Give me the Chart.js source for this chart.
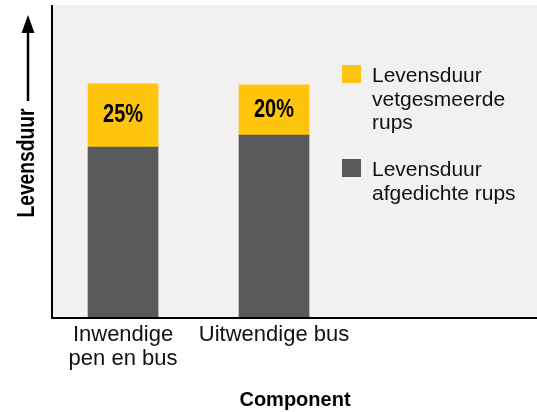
<!DOCTYPE html>
<html lang="nl">
<head>
<meta charset="UTF-8">
<title>Levensduur per component</title>
<script src="https://cdn.jsdelivr.net/npm/chart.js"></script>
<style>
    html, body { margin: 0; padding: 0; background: #ffffff; }
    .wrap { position: relative; width: 537px; height: 412px; }
</style>
</head>
<body>
<div class="wrap"><canvas id="lifeChart"></canvas></div>
<script>
// data (y in % of plot height)
const categories = [['Inwendige', 'pen en bus'], 'Uitwendige bus'];
const sealedLife = [54.5, 58.3];     // Levensduur afgedichte rups
const greasedExtra = [20.2, 16.1];   // extra levensduur vetgesmeerde rups
const pctLabels = ['25%', '20%'];
const legendLabels = [
    ['Levensduur', 'vetgesmeerde', 'rups'],
    ['Levensduur', 'afgedichte rups']
];

const YELLOW = '#ffc40c';
const GREY = '#58595b';
const BG = '#f2f1ef';
const FONT = "'Liberation Sans', Arial, sans-serif";

// condensed bold text: Liberation Sans squeezed horizontally
function narrowText(ctx, text, x, y, size, squeeze) {
    ctx.save();
    ctx.font = 'bold ' + size + 'px ' + FONT;
    ctx.translate(x, y);
    ctx.scale(squeeze, 1);
    ctx.fillText(text, 0, 0);
    ctx.restore();
}

const decorations = {
    id: 'decorations',
    beforeDraw(chart) {
        const { ctx, chartArea: a } = chart;
        ctx.save();
        ctx.fillStyle = BG;
        ctx.fillRect(a.left, a.top, a.right - a.left, a.bottom - a.top);
        ctx.restore();
    },
    afterDatasetsDraw(chart) {
        const { ctx } = chart;
        const meta = chart.getDatasetMeta(1);
        ctx.save();
        ctx.fillStyle = '#000';
        ctx.textAlign = 'center';
        ctx.textBaseline = 'alphabetic';
        meta.data.forEach((bar, i) => {
            const mid = (bar.y + bar.base) / 2;
            narrowText(ctx, pctLabels[i], bar.x, mid + 7, 25, 0.8);
        });
        ctx.restore();
    },
    afterDraw(chart) {
        const { ctx, chartArea: a } = chart;
        ctx.save();
        // axes
        ctx.strokeStyle = '#000';
        ctx.lineWidth = 2;
        ctx.beginPath();
        ctx.moveTo(a.left - 1, a.top);
        ctx.lineTo(a.left - 1, a.bottom + 2);
        ctx.moveTo(a.left - 2, a.bottom + 1);
        ctx.lineTo(a.right, a.bottom + 1);
        ctx.stroke();

        // y title with arrow
        ctx.fillStyle = '#000';
        ctx.textAlign = 'center';
        ctx.textBaseline = 'alphabetic';
        ctx.save();
        ctx.translate(33.5, 163);
        ctx.rotate(-Math.PI / 2);
        narrowText(ctx, 'Levensduur', 0, 0, 23.5, 0.82);
        ctx.restore();
        ctx.lineWidth = 2.5;
        ctx.beginPath();
        ctx.moveTo(28, 30);
        ctx.lineTo(28, 101);
        ctx.stroke();
        ctx.beginPath();
        ctx.moveTo(28, 15);
        ctx.lineTo(21.5, 33);
        ctx.lineTo(34.5, 33);
        ctx.closePath();
        ctx.fill();

        // legend (yellow first)
        const order = [1, 0];
        const tops = [65, 159];
        ctx.font = '21px ' + FONT;
        ctx.textAlign = 'left';
        order.forEach((dsIndex, k) => {
            const ds = chart.data.datasets[dsIndex];
            ctx.fillStyle = ds.backgroundColor;
            ctx.fillRect(342, tops[k], 19, 18);
            ctx.fillStyle = '#111';
            legendLabels[k].forEach((line, j) => {
                ctx.fillText(line, 372, tops[k] + 17 + j * 23.5);
            });
        });
        ctx.restore();
    }
};

new Chart(document.getElementById('lifeChart'), {
    type: 'bar',
    data: {
        datasets: [
            {
                label: 'Levensduur afgedichte rups',
                data: sealedLife.map((v, i) => ({ x: i, y: v })),
                backgroundColor: GREY,
                barThickness: 70
            },
            {
                label: 'Levensduur vetgesmeerde rups',
                data: greasedExtra.map((v, i) => ({ x: i, y: v })),
                backgroundColor: YELLOW,
                barThickness: 70
            }
        ]
    },
    options: {
        responsive: true,
        maintainAspectRatio: false,
        devicePixelRatio: 1,
        animation: false,
        layout: { padding: { left: 53, top: 5, right: 0, bottom: 0 } },
        plugins: {
            legend: { display: false },
            tooltip: { enabled: false }
        },
        scales: {
            x: {
                type: 'linear',
                stacked: true,
                offset: false,
                min: -0.464,
                max: 2.742,
                grid: { display: false, drawTicks: false },
                border: { display: false },
                afterBuildTicks: (scale) => {
                    scale.ticks = categories.map((c, i) => ({ value: i }));
                },
                afterFit: (scale) => { scale.height = 95; },
                ticks: {
                    autoSkip: false,
                    maxRotation: 0,
                    padding: 6,
                    color: '#111',
                    font: { family: FONT, size: 22, lineHeight: 24 / 22 },
                    callback: (value) => categories[value]
                },
                title: {
                    display: true,
                    text: 'Component',
                    color: '#000',
                    font: { family: FONT, size: 20, weight: 'bold', lineHeight: 1.2 },
                    padding: { top: 0, bottom: 0 }
                }
            },
            y: {
                stacked: true,
                display: false,
                min: 0,
                max: 100
            }
        }
    },
    plugins: [decorations]
});
</script>
</body>
</html>
